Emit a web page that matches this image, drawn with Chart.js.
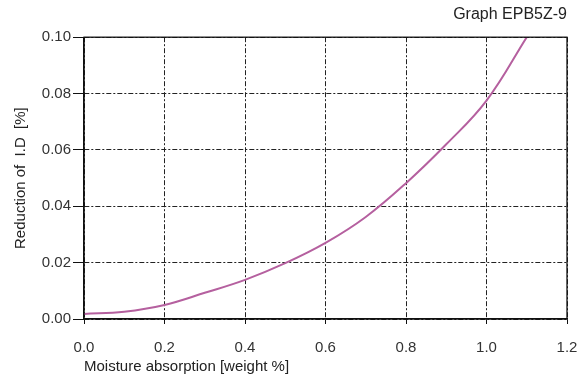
<!DOCTYPE html>
<html>
<head>
<meta charset="utf-8">
<script src="https://cdn.jsdelivr.net/npm/chart.js@4.4.1/dist/chart.umd.min.js"></script>
<style>
  html, body { margin: 0; padding: 0; background: #fff; }
  #wrap { width: 587px; height: 376px; }
</style>
</head>
<body>
<div id="wrap"><canvas id="chart"></canvas></div>
<script>
// curve
const moisture = [0.0, 0.1, 0.2, 0.3, 0.4, 0.5, 0.6, 0.7, 0.8, 0.9, 1.0, 1.1];
const reduction = [0.0018, 0.0026, 0.005, 0.0093, 0.0139, 0.0198, 0.027, 0.0362, 0.0482, 0.062, 0.0775, 0.1];

const xTicks = [0.0, 0.2, 0.4, 0.6, 0.8, 1.0, 1.2];
const yTicks = [0.0, 0.02, 0.04, 0.06, 0.08, 0.1];

const FONT = "'Liberation Sans', Arial, sans-serif";

// solid frame around the plot area
const frame = {
  id: "frame",
  afterDraw(chart) {
    const { ctx, chartArea: a } = chart;
    ctx.save();
    ctx.strokeStyle = "#111";
    ctx.lineWidth = 1.3;
    ctx.strokeRect(a.left, a.top, a.right - a.left, a.bottom - a.top);
    ctx.restore();
  },
};

new Chart(document.querySelector("#chart"), {
  type: "scatter",
  data: {
    datasets: [
      {
        data: moisture.map((x, i) => ({ x, y: reduction[i] })),
        showLine: true,
        borderColor: "#b5609f",
        borderWidth: 2,
        pointRadius: 0,
        tension: 0.4,
      },
    ],
  },
  options: {
    responsive: true,
    maintainAspectRatio: false,
    animation: false,
    layout: { padding: { left: 0, right: 20, top: 5, bottom: 0 } },
    plugins: {
      legend: { display: false },
      tooltip: { enabled: false },
      title: {
        display: true,
        text: "Graph EPB5Z-9",
        align: "end",
        color: "#222",
        font: { family: FONT, size: 16, weight: "normal" },
        padding: { top: 0, bottom: 13 },
      },
    },
    scales: {
      x: {
        type: "linear",
        min: 0,
        max: 1.2,
        afterBuildTicks: (s) => { s.ticks = xTicks.map((v) => ({ value: v })); },
        afterFit: (s) => {
          s.height = 57;
          s.paddingRight = 0;
          s.paddingLeft = 0;
        },
        border: { display: true, color: "#111", width: 1.3, dash: [5, 2, 2, 2] },
        grid: {
          color: "#222",
          lineWidth: 1,
          tickLength: 5,
          tickColor: "#111",
          tickBorderDash: [],
        },
        ticks: {
          color: "#333",
          padding: 15,
          font: { family: FONT, size: 15 },
          callback: (v) => v.toFixed(1),
        },
        title: {
          display: true,
          text: "Moisture absorption [weight %]",
          align: "start",
          color: "#222",
          font: { family: FONT, size: 15 },
          padding: { top: 0, bottom: 0 },
        },
      },
      y: {
        type: "linear",
        min: 0,
        max: 0.1,
        afterBuildTicks: (s) => { s.ticks = yTicks.map((v) => ({ value: v })); },
        afterFit: (s) => { s.width = 84; },
        border: { display: true, color: "#111", width: 1.3, dash: [5, 2, 2, 2] },
        grid: {
          color: "#222",
          lineWidth: 1,
          tickLength: 11,
          tickColor: "#111",
          tickBorderDash: [],
        },
        ticks: {
          color: "#333",
          padding: 2,
          font: { family: FONT, size: 15 },
          callback: (v) => v.toFixed(2),
        },
        title: {
          display: true,
          text: "Reduction of  I.D  [%]",
          color: "#222",
          font: { family: FONT, size: 15 },
          padding: { top: 12, bottom: 4 },
        },
      },
    },
  },
  plugins: [frame],
});
</script>
</body>
</html>
